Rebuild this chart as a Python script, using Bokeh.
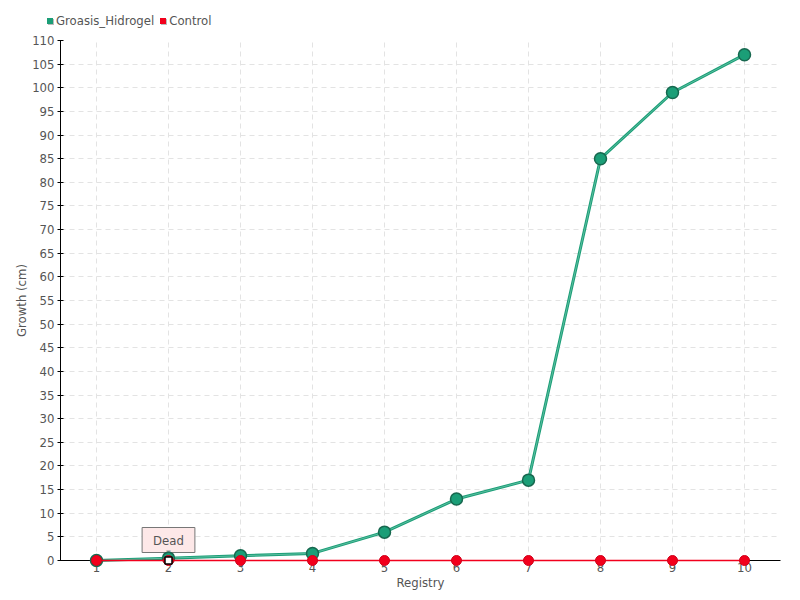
from bokeh.plotting import figure
from bokeh.layouts import column
from bokeh.models import (FixedTicker, SingleIntervalTicker, Range1d, Label, Div)
from bokeh.embed import file_html
from bokeh.resources import INLINE

registry = [1, 2, 3, 4, 5, 6, 7, 8, 9, 10]
groasis_hidrogel = [0, 0.5, 1, 1.5, 6, 13, 17, 85, 99, 107]
control = [0, 0, 0, 0, 0, 0, 0, 0, 0, 0]
dead_index = 1
dead_text = "Dead"
series_names = ["Groasis_Hidrogel", "Control"]

FONT = "'DejaVu Sans Condensed', Roboto"
GREEN = "#1b9e77"
GREEN_DARK = "#17684f"
RED = "#f2001c"
TXT = "#555555"
series_colors = [GREEN, RED]

# ---- main chart
p = figure(width=800, height=570, output_backend="svg", toolbar_location=None,
           x_range=Range1d(0.5, 10.5), y_range=Range1d(0, 110),
           min_border_left=60, min_border_right=20, min_border_top=10,
           min_border_bottom=40)
p.outline_line_color = None

p.xgrid.grid_line_color = "#e3e3e3"
p.ygrid.grid_line_color = "#e3e3e3"
p.xgrid.grid_line_dash = "5 4"
p.ygrid.grid_line_dash = "5 4"

p.xaxis.ticker = FixedTicker(ticks=registry)
p.yaxis.ticker = SingleIntervalTicker(interval=5)
for ax in (p.xaxis, p.yaxis):
    ax.axis_line_color = "black"
    ax.major_tick_line_color = "black"
    ax.minor_tick_line_color = None
    ax.major_label_text_font = FONT
    ax.major_label_text_font_size = "13px"
    ax.major_label_text_color = TXT
    ax.axis_label_text_font = FONT
    ax.axis_label_text_font_size = "13px"
    ax.axis_label_text_color = TXT
    ax.axis_label_text_font_style = "normal"
p.yaxis.major_tick_in = 3
p.yaxis.major_tick_out = 3
p.xaxis.major_tick_in = 0
p.xaxis.major_tick_out = 0
p.xaxis.major_label_standoff = 2
p.xaxis.axis_label_standoff = 0
p.yaxis.major_label_standoff = 2
p.yaxis.axis_label_standoff = 0
p.xaxis.axis_label = "Registry"
p.yaxis.axis_label = "Growth (cm)"

p.line(registry, groasis_hidrogel, line_color=GREEN, line_width=3, level="overlay")
p.line(registry, groasis_hidrogel, line_color="#7fcfb6", line_width=0.8,
       line_alpha=0.8, level="overlay")
p.scatter(registry, groasis_hidrogel, size=12, fill_color=GREEN,
          line_color=GREEN_DARK, line_width=1.5, level="overlay")
p.line(registry, control, line_color=RED, line_width=1.5, level="overlay")
p.scatter(registry, control, size=10, fill_color=RED, line_color="#d0001a",
          line_width=1, level="overlay")

p.scatter([registry[dead_index]], [control[dead_index]], marker="square", size=7,
          fill_color="white", line_color="black", line_width=1.5, level="overlay")
lab = Label(x=registry[dead_index], y=control[dead_index], x_offset=0, y_offset=8,
            text=dead_text, text_align="center", text_baseline="bottom",
            text_font=FONT, text_font_size="13px", text_color=TXT,
            background_fill_color="#fde8e8", border_line_color="#777777",
            border_line_width=1, padding=(11, 5))
p.add_layout(lab)
tri = Label(x=registry[dead_index], y=control[dead_index], x_offset=0, y_offset=4,
            text="\u25BC", text_align="center", text_baseline="bottom",
            text_font_size="8px", text_color="#999999")
p.add_layout(tri)

# ---- legend strip (HTML)
items_html = ""
for name, col in zip(series_names, series_colors):
    items_html += (
        '<span style="display:inline-block;width:6px;height:6px;'
        'background:%s;margin-right:3px;box-shadow:1px 1px 0 #bbb;"></span>'
        '<span style="margin-right:6px;">%s</span>' % (col, name))
html = ('<div style="position:relative;width:800px;height:30px;">'
        '<div style="position:absolute;left:47px;top:13px;display:flex;'
        'align-items:center;line-height:16px;font-family:%s;font-size:13px;'
        'color:%s;white-space:nowrap;">%s</div></div>' % (FONT, TXT, items_html))
lg = Div(text=html, width=800, height=30, margin=(0, 0, 0, 0))

layout = column(lg, p, spacing=0)
open("out.html", "w").write(file_html(layout, INLINE))
